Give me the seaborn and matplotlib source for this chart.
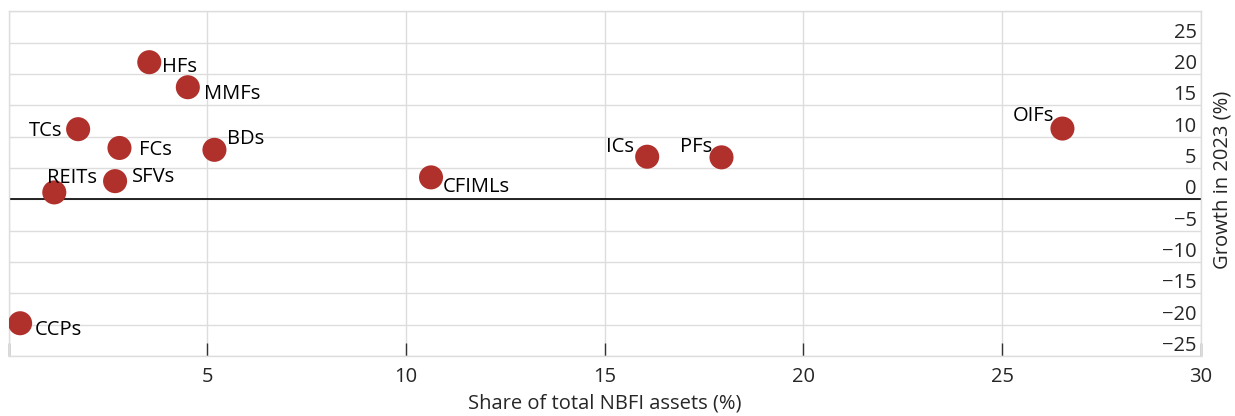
import numpy as np
import pandas as pd
import seaborn as sns
import matplotlib.pyplot as plt

# data
sectors = ["HFs", "MMFs", "TCs", "FCs", "BDs", "REITs", "SFVs", "CFIMLs", "ICs", "PFs", "OIFs", "CCPs"]
share = [3.54, 4.51, 1.75, 2.79, 5.18, 1.15, 2.68, 10.63, 16.07, 17.94, 26.52, 0.29]
growth = [21.9, 17.9, 11.2, 8.2, 7.9, 1.1, 2.9, 3.5, 6.8, 6.7, 11.3, -19.8]
x_ticks = [0, 5, 10, 15, 20, 25, 30]
x_ticklabels = ["", "5", "10", "15", "20", "25", "30"]
y_ticks = [-25, -20, -15, -10, -5, 0, 5, 10, 15, 20, 25]

df = pd.DataFrame({"sector": sectors, "share": share, "growth": growth})

# label placement (pixel offsets from the point, alignment)
label_pos = {
    "HFs": (13, -3, "left"), "MMFs": (16, -5, "left"), "TCs": (-16, 0, "right"),
    "FCs": (20, 0, "left"), "BDs": (13, 13, "left"), "REITs": (-7, 16, "left"),
    "SFVs": (17, 6, "left"), "CFIMLs": (12, -8, "left"), "ICs": (-13, 12, "right"),
    "PFs": (-9, 12, "right"), "OIFs": (-8, 15, "right"), "CCPs": (15, -5, "left"),
}

sns.set_style("white")
plt.rcParams["font.family"] = ["Open Sans", "DejaVu Sans"]
fs = 14.5

fig = plt.figure(figsize=(12.35, 4.16), dpi=100)
ax = fig.add_axes([0.00696, 0.1447, 0.9653, 0.8277])

grid_c = "#dddddd"
ax.set_xlim(0, 30)
ax.set_ylim(-25, 30)
ax.set_xticks(x_ticks)
ax.set_xticklabels(x_ticklabels, fontsize=fs)
ax.set_yticks(np.arange(-25, 31, 5))
ax.set_yticklabels([str(v).replace("-", "\u2212") if v in y_ticks else "" for v in np.arange(-25, 31, 5)], fontsize=fs)
ax.grid(True, color=grid_c, lw=1)
ax.set_axisbelow(True)
for sp in ax.spines.values():
    sp.set_color(grid_c)
    sp.set_linewidth(1)

ax.axhline(0, color="black", lw=1.2, zorder=1)

sns.scatterplot(data=df, x="share", y="growth", s=300, color="#B0302C", edgecolor="none", ax=ax, zorder=3)

for _, r in df.iterrows():
    dx, dy, ha = label_pos[r["sector"]]
    ax.annotate(r["sector"], (r["share"], r["growth"]), xytext=(dx, dy - 2), textcoords="offset pixels",
                ha=ha, va="center", fontsize=fs, color="black", zorder=4)

ax.tick_params(axis="x", direction="in", length=9.5, width=1, color="#333333", pad=8, bottom=True)
ax.tick_params(axis="y", length=0, labelleft=False, labelright=True, right=False, left=False, pad=-3)
for lab in ax.get_yticklabels():
    lab.set_horizontalalignment("right")
    lab.set_verticalalignment("bottom")

ax.set_xlabel("Share of total NBFI assets (%)", fontsize=fs, labelpad=5)
ax.set_ylabel("Growth in 2023 (%)", fontsize=fs)
ax.yaxis.set_label_position("right")
ax.yaxis.set_label_coords(1.0102, 0.51)

fig.savefig("out.png", dpi=100)
